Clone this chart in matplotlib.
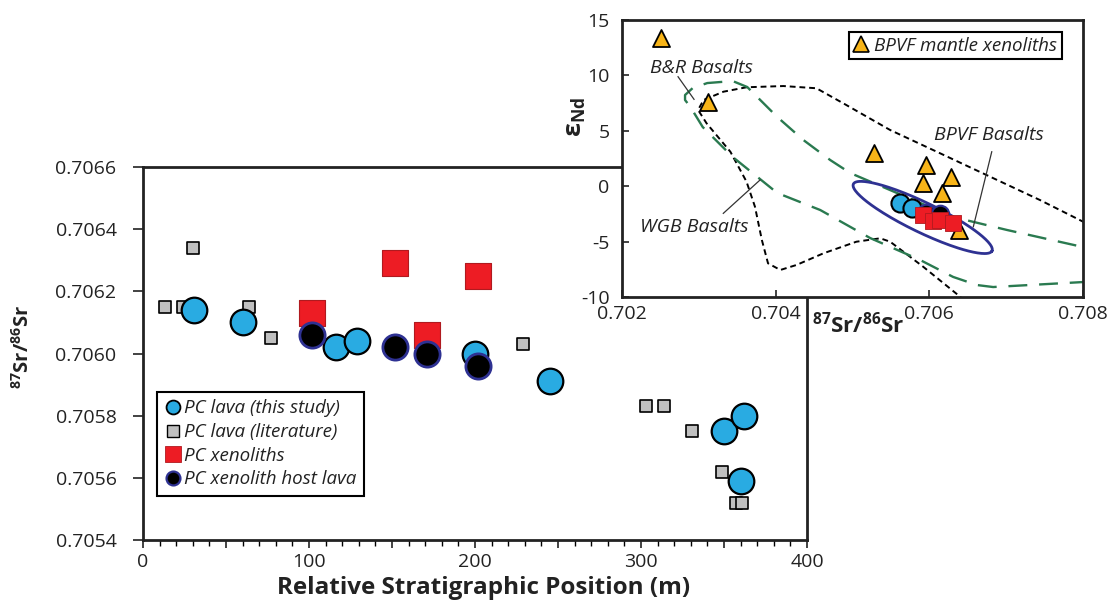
import matplotlib
matplotlib.use("Agg")
import matplotlib.pyplot as plt
import numpy as np
from matplotlib.lines import Line2D
from matplotlib.ticker import MultipleLocator, FixedLocator, FuncFormatter

plt.rcParams["font.family"] = "Open Sans"
plt.rcParams["mathtext.fontset"] = "custom"
plt.rcParams["mathtext.rm"] = "Open Sans"
plt.rcParams["mathtext.it"] = "Open Sans:italic"
plt.rcParams["mathtext.bf"] = "Open Sans:bold"
plt.rcParams["axes.unicode_minus"] = False

# --- Sr isotopes vs stratigraphic height (main panel) ---
lava_pos = [31, 60, 116, 129, 200, 245, 350, 362, 360]
lava_sr = [0.70614, 0.70610, 0.70602, 0.70604, 0.70600, 0.70591, 0.70575, 0.70580, 0.70559]

lit_pos = [13, 24, 30, 64, 77, 229, 303, 314, 331, 349, 357, 361]
lit_sr = [0.70615, 0.70615, 0.70634, 0.70615, 0.70605, 0.70603,
          0.70583, 0.70583, 0.70575, 0.70562, 0.70552, 0.70552]

xeno_pos = [102, 152, 171, 202]
xeno_sr = [0.70613, 0.70629, 0.70606, 0.70625]

host_pos = [102, 152, 171, 202]
host_sr = [0.70606, 0.70602, 0.70600, 0.70596]

# --- Sr-Nd inset ---
mx_sr = [0.70251, 0.70312, 0.70528, 0.70596, 0.70592, 0.70628, 0.70617, 0.70639]
mx_end = [13.4, 7.6, 3.0, 1.9, 0.3, 0.8, -0.6, -3.95]

in_lava_sr = [0.70562, 0.70578]
in_lava_end = [-1.5, -1.97]
in_host_sr = [0.70595, 0.70614]
in_host_end = [-2.4, -2.5]
in_xeno_sr = [0.70592, 0.70605, 0.70614, 0.70631]
in_xeno_end = [-2.6, -3.14, -3.05, -3.3]

# WGB field outline (dotted)
wgb_sr = [0.70679, 0.70640, 0.70592, 0.70549, 0.70536, 0.70505, 0.70462, 0.70427,
          0.70406, 0.70390, 0.70382, 0.70373, 0.70362, 0.70341, 0.70310, 0.70299,
          0.70306, 0.70332, 0.70362, 0.70410, 0.70453, 0.70488, 0.70549, 0.70614,
          0.70679, 0.70744, 0.70800, 0.70830]
wgb_end = [-12.98, -9.97, -7.27, -5.01, -4.70, -5.01, -6.06, -7.11,
           -7.56, -6.96, -4.86, -1.85, 0.41, 3.11, 5.68, 6.88,
           7.78, 8.53, 8.93, 9.04, 8.84, 7.48, 5.07, 2.97,
           0.86, -1.25, -3.20, -4.3]

# B&R field outline (long dashes)
br_sr = [0.70830, 0.70800, 0.70701, 0.70631, 0.70497, 0.70471, 0.70436, 0.70402,
         0.70376, 0.70363, 0.70344, 0.70311, 0.70292, 0.70282, 0.70282, 0.70289,
         0.70305, 0.70344, 0.70402, 0.70458, 0.70523, 0.70588, 0.70631, 0.70662,
         0.70683, 0.70800, 0.70830]
br_end = [-6.0, -5.49, -3.95, -2.78, 1.19, 2.36, 4.17, 6.25,
          8.05, 8.95, 9.49, 9.31, 8.86, 8.23, 7.78, 7.15,
          5.34, 2.64, -0.61, -2.15, -4.68, -6.66, -8.19, -8.92,
          -9.10, -8.65, -8.6]

# BPVF basalt field (ellipse: centre and two semi-axis vectors)
bpvf_center = (0.705913, -2.82)
bpvf_major = (0.000902, -3.02)
bpvf_minor = (-0.0000847, -1.22)

field_labels = ["B&R Basalts", "WGB Basalts", "BPVF Basalts"]
label_xy = [(0.703028, 10.67), (0.702937, -3.68), (0.706777, 4.62)]
leader_lines = [((0.702729, 9.88), (0.702937, 7.84)),
                ((0.703318, -2.45), (0.703796, 0.56)),
                ((0.706812, 3.11), (0.706572, -3.66))]

BLUE = "#29abe2"
GRAY = "#c0c0c0"
RED = "#ed1c24"
NAVY = "#2e3192"
ORANGE = "#f7b418"
GREEN = "#2a7a50"
INK = "#222222"

fig = plt.figure(figsize=(11.1, 6.08), dpi=100)
ax = fig.add_axes([0.1288, 0.1118, 0.5982, 0.6135])
ins = fig.add_axes([0.5604, 0.5115, 0.4153, 0.4556])

# main panel
ax.scatter(lit_pos, lit_sr, s=70, marker="s", c=GRAY, edgecolors="black", linewidths=1.2, zorder=2)
ax.scatter(xeno_pos, xeno_sr, s=340, marker="s", c=RED, edgecolors="#b01a1f", linewidths=0.8, zorder=3)
ax.scatter(lava_pos, lava_sr, s=340, marker="o", c=BLUE, edgecolors="black", linewidths=1.6, zorder=4)
ax.scatter(host_pos, host_sr, s=330, marker="o", c="black", edgecolors=NAVY, linewidths=2.0, zorder=5)

ax.set_xlim(0, 400)
ax.set_ylim(0.7054, 0.7066)
ax.xaxis.set_major_locator(MultipleLocator(50))
ax.xaxis.set_minor_locator(MultipleLocator(10))
ax.xaxis.set_major_formatter(FuncFormatter(lambda v, p: f"{v:.0f}" if v % 100 == 0 else ""))
ax.yaxis.set_major_locator(MultipleLocator(0.0002))
ax.yaxis.set_major_formatter(FuncFormatter(lambda v, p: f"{v:.4f}"))
ax.tick_params(axis="x", which="major", direction="out", length=6, width=1.2, labelsize=14, pad=3, colors=INK)
ax.tick_params(axis="x", which="minor", direction="out", length=4, width=1.0)
ax.tick_params(axis="y", direction="out", length=7, width=1.2, labelsize=14, pad=12, colors=INK)
for sp in ax.spines.values():
    sp.set_linewidth(2.0)
    sp.set_color(INK)

fig.text(23 / 1110, 1 - 347 / 608, r"$^{\mathbf{87}}\mathbf{Sr/}^{\mathbf{86}}\mathbf{Sr}$",
         rotation=90, ha="center", va="center", fontsize=14.5, color=INK)
fig.text(484 / 1110, 1 - 588 / 608, "Relative Stratigraphic Position (m)",
         ha="center", va="center", fontsize=17.5, fontweight="bold", color=INK)

handles = [
    Line2D([], [], ls="none", marker="o", ms=10, mfc=BLUE, mec="black", mew=1.3),
    Line2D([], [], ls="none", marker="s", ms=8, mfc=GRAY, mec="black", mew=1.0),
    Line2D([], [], ls="none", marker="s", ms=11, mfc=RED, mec="#b01a1f", mew=0.6),
    Line2D([], [], ls="none", marker="o", ms=10, mfc="black", mec=NAVY, mew=1.6),
]
labels = ["PC lava (this study)", "PC lava (literature)", "PC xenoliths", "PC xenolith host lava"]
leg = ax.legend(handles, labels, loc="upper left", bbox_to_anchor=(0.021, 0.397),
                borderaxespad=0, fancybox=False, framealpha=1, edgecolor="black",
                prop={"style": "italic", "size": 13.5}, handlelength=0.9, handletextpad=0.15,
                labelspacing=0.3, borderpad=0.4)
leg.get_frame().set_linewidth(1.5)
for txt in leg.get_texts():
    txt.set_color(INK)

# inset: Sr-Nd
ins.set_facecolor("white")
ins.plot(wgb_sr, wgb_end, color="black", ls=(0, (3, 2)), lw=1.4, zorder=2)
ins.plot(br_sr, br_end, color=GREEN, ls=(0, (8, 5)), lw=1.7, zorder=2)
t = np.linspace(0, 2 * np.pi, 200)
ell_x = bpvf_center[0] + bpvf_major[0] * np.cos(t) + bpvf_minor[0] * np.sin(t)
ell_y = bpvf_center[1] + bpvf_major[1] * np.cos(t) + bpvf_minor[1] * np.sin(t)
ins.plot(ell_x, ell_y, color=NAVY, lw=2.0, zorder=3)

for (x0, y0), (x1, y1) in leader_lines:
    ins.plot([x0, x1], [y0, y1], color="#333333", lw=0.9, zorder=3)
for txt, (x, y) in zip(field_labels, label_xy):
    ins.text(x, y, txt, ha="center", va="center", fontsize=14, style="italic", color=INK)

ins.scatter(mx_sr, mx_end, s=150, marker="^", c=ORANGE, edgecolors="black", linewidths=1.3, zorder=4)
ins.scatter(in_lava_sr, in_lava_end, s=170, marker="o", c=BLUE, edgecolors="black", linewidths=1.5, zorder=5)
ins.scatter(in_host_sr, in_host_end, s=160, marker="o", c="black", edgecolors=NAVY, linewidths=1.5, zorder=6)
ins.scatter(in_xeno_sr, in_xeno_end, s=130, marker="s", c=RED, edgecolors="#b01a1f", linewidths=0.6, zorder=7)

ins.set_xlim(0.702, 0.708)
ins.set_ylim(-10, 15)
ins.xaxis.set_major_locator(FixedLocator([0.702, 0.704, 0.706, 0.708]))
ins.xaxis.set_major_formatter(FuncFormatter(lambda v, p: f"{v:.3f}"))
ins.yaxis.set_major_locator(MultipleLocator(5))
ins.yaxis.set_major_formatter(FuncFormatter(lambda v, p: f"{v:.0f}"))
ins.tick_params(direction="in", length=5, width=1.2, labelsize=14, colors=INK)
ins.tick_params(axis="y", pad=9)
ins.tick_params(axis="x", pad=6)
for sp in ins.spines.values():
    sp.set_linewidth(2.0)
    sp.set_color(INK)

mleg = ins.legend([Line2D([], [], ls="none", marker="^", ms=11, mfc=ORANGE, mec="black", mew=1.2)],
                  ["BPVF mantle xenoliths"], loc="upper right", bbox_to_anchor=(0.954, 0.957),
                  borderaxespad=0, fancybox=False, framealpha=1, edgecolor="black",
                  prop={"style": "italic", "size": 13.5}, handlelength=0.8, handletextpad=0.3,
                  borderpad=0.25)
mleg.get_frame().set_linewidth(1.5)
mleg.get_texts()[0].set_color(INK)

fig.text(858 / 1110, 1 - 325 / 608, r"$^{\mathbf{87}}\mathbf{Sr/}^{\mathbf{86}}\mathbf{Sr}$",
         ha="center", va="center", fontsize=16, color=INK)
fig.text(575 / 1110, 1 - 117 / 608, r"$\mathbf{ε}_{\mathbf{Nd}}$",
         rotation=90, ha="center", va="center", fontsize=18, color=INK)

fig.savefig("out.png", dpi=100)
